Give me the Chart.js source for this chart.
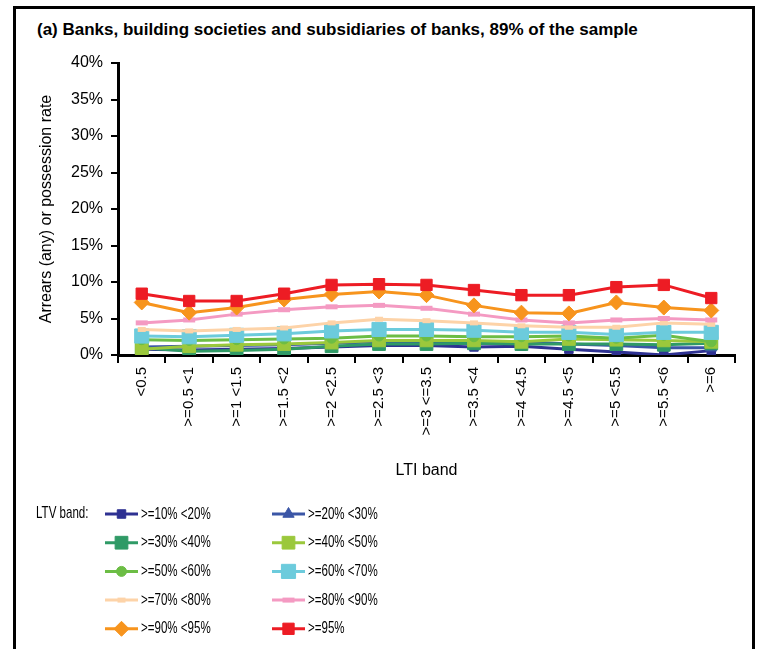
<!DOCTYPE html>
<html>
<head>
<meta charset="utf-8">
<script src="https://cdn.jsdelivr.net/npm/chart.js@4.4.0/dist/chart.umd.min.js"></script>
<style>
  html, body { margin: 0; padding: 0; background: #fff; }
  #wrap { position: relative; width: 760px; height: 649px; overflow: hidden; }
  #frame { position: absolute; left: 13px; top: 6px; width: 742px; height: 700px; border: 3px solid #000; box-sizing: border-box; }
  #title { position: absolute; left: 37px; top: 20px; font: bold 17px "Liberation Sans", sans-serif; color: #000; white-space: nowrap; }
  canvas { position: absolute; left: 0; top: 0; }
</style>
</head>
<body>
<div id="wrap">
  <div id="frame"></div>
  <div id="title">(a) Banks, building societies and subsidiaries of banks, 89% of the sample</div>
  <canvas id="chart" width="760" height="649"></canvas>
</div>
<script>
const FONT = '"Liberation Sans", sans-serif';

// LTI bands along the x axis
const ltiBands = ['<0.5', '>=0.5 <1', '>=1 <1.5', '>=1.5 <2', '>=2 <2.5', '>=2.5 <3', '>=3 <=3.5',
                  '>=3.5 <4', '>=4 <4.5', '>=4.5 <5', '>=5 <5.5', '>=5.5 <6', '>=6'];

// arrears/possession rate (%) per LTV band
const ltv10to20 = [0.8, 0.7, 0.8, 0.9, 1.1, 1.3, 1.3, 1.1, 1.2, 0.8, 0.4, 0.0, 0.6];
const ltv20to30 = [1.1, 1.2, 1.3, 1.4, 1.6, 1.8, 1.8, 1.6, 1.8, 1.5, 1.3, 1.0, 1.0];
const ltv30to40 = [1.0, 0.5, 0.6, 0.8, 1.2, 1.5, 1.5, 1.6, 1.5, 1.5, 1.5, 1.4, 1.6];
const ltv40to50 = [0.8, 1.2, 1.4, 1.5, 1.7, 2.0, 2.0, 2.0, 1.8, 2.2, 2.1, 2.0, 1.8];
const ltv50to60 = [2.1, 2.0, 2.1, 2.2, 2.3, 2.6, 2.6, 2.5, 2.5, 2.6, 2.3, 2.7, 1.8];
const ltv60to70 = [2.6, 2.5, 2.7, 2.9, 3.3, 3.5, 3.5, 3.4, 3.1, 3.1, 2.8, 3.1, 3.1];
const ltv70to80 = [3.5, 3.3, 3.5, 3.7, 4.4, 4.9, 4.7, 4.4, 4.0, 3.8, 3.8, 4.4, 4.2];
const ltv80to90 = [4.4, 4.8, 5.6, 6.2, 6.6, 6.8, 6.4, 5.6, 4.8, 4.4, 4.8, 5.0, 4.8];
const ltv90to95 = [7.2, 5.8, 6.5, 7.6, 8.3, 8.7, 8.2, 6.8, 5.8, 5.7, 7.2, 6.5, 6.1];
const ltv95plus = [8.4, 7.4, 7.4, 8.4, 9.6, 9.7, 9.6, 8.9, 8.2, 8.2, 9.3, 9.6, 7.8];

const yTicks = [0, 5, 10, 15, 20, 25, 30, 35, 40];

function series(label, data, color, style, radius, pointBorder) {
  return {
    label, data,
    borderColor: color, backgroundColor: color,
    pointBackgroundColor: color, pointBorderColor: color,
    borderWidth: 3,
    pointStyle: style, pointRadius: radius, pointBorderWidth: pointBorder || 1,
    tension: 0
  };
}

const datasets = [
  series('>=10% <20%', ltv10to20, '#2e3192', 'rect', 6),
  series('>=20% <30%', ltv20to30, '#3b56a6', 'triangle', 6.5),
  series('>=30% <40%', ltv30to40, '#2f9a66', 'rect', 9),
  series('>=40% <50%', ltv40to50, '#9bc83c', 'rect', 9),
  series('>=50% <60%', ltv50to60, '#6cbd45', 'circle', 5),
  series('>=60% <70%', ltv60to70, '#6ccbdc', 'rect', 10),
  series('>=70% <80%', ltv70to80, '#fdd3a8', 'line', 4, 5),
  series('>=80% <90%', ltv80to90, '#f49ac2', 'line', 6, 5),
  series('>=90% <95%', ltv90to95, '#f7941d', 'rectRot', 7.5),
  series('>=95%', ltv95plus, '#ed1c24', 'rect', 8)
];
// later bands sit on top
datasets.forEach((d, i) => { d.order = datasets.length - i; });

// narrow text for the key
function narrowText(ctx, text, x, y) {
  ctx.save();
  ctx.translate(x, y);
  ctx.scale(0.68, 1);
  ctx.fillText(text, 0, 0);
  ctx.restore();
}

// two-column key under the axis
const ltvLegend = {
  id: 'ltvLegend',
  afterDraw(chart) {
    const ctx = chart.ctx;
    ctx.save();
    ctx.font = '17px ' + FONT;
    ctx.fillStyle = '#000';
    ctx.textBaseline = 'middle';
    ctx.textAlign = 'left';
    narrowText(ctx, 'LTV band:', 36, 513);
    chart.data.datasets.forEach((ds, i) => {
      const x0 = i % 2 ? 272 : 105;
      const y = 514 + Math.floor(i / 2) * 28.7;
      ctx.strokeStyle = ds.borderColor;
      ctx.lineWidth = 3;
      ctx.beginPath();
      ctx.moveTo(x0, y);
      ctx.lineTo(x0 + 33, y);
      ctx.stroke();
      ctx.fillStyle = ds.pointBackgroundColor;
      ctx.lineWidth = ds.pointBorderWidth;
      Chart.helpers.drawPoint(ctx, {
        pointStyle: ds.pointStyle, radius: ds.pointRadius,
        borderWidth: ds.pointBorderWidth, rotation: 0
      }, x0 + 16.5, y);
      ctx.fillStyle = '#000';
      narrowText(ctx, ds.label, x0 + 36, y);
    });
    ctx.restore();
  }
};

new Chart(document.getElementById('chart'), {
  type: 'line',
  data: { labels: ltiBands, datasets },
  plugins: [ltvLegend],
  options: {
    responsive: false,
    animation: false,
    layout: { padding: { top: 63, right: 25, bottom: 169, left: 0 } },
    plugins: { legend: { display: false }, tooltip: { enabled: false } },
    scales: {
      x: {
        offset: true,
        grid: { offset: true, drawOnChartArea: false, drawTicks: true, tickLength: 8, color: '#000', lineWidth: 2 },
        border: { color: '#000', width: 3 },
        ticks: { autoSkip: false, maxRotation: 90, minRotation: 90, padding: 4, color: '#000', font: { family: FONT, size: 15 } },
        title: { display: true, text: 'LTI band', color: '#000', font: { family: FONT, size: 16 }, padding: { top: 0, bottom: 0 } },
        afterFit(s) { s.height = 125; }
      },
      y: {
        min: 0, max: 40,
        afterBuildTicks(s) { s.ticks = yTicks.map(v => ({ value: v })); },
        grid: { drawOnChartArea: false, drawTicks: true, tickLength: 7, color: '#000', lineWidth: 2 },
        border: { color: '#000', width: 3 },
        ticks: { padding: 8, color: '#000', font: { family: FONT, size: 16 }, callback: v => v + '%' },
        title: { display: true, text: 'Arrears (any) or possession rate', color: '#000', font: { family: FONT, size: 16 }, padding: { top: 37, bottom: 0 } },
        afterFit(s) { s.width = 118; }
      }
    }
  }
});
</script>
</body>
</html>
